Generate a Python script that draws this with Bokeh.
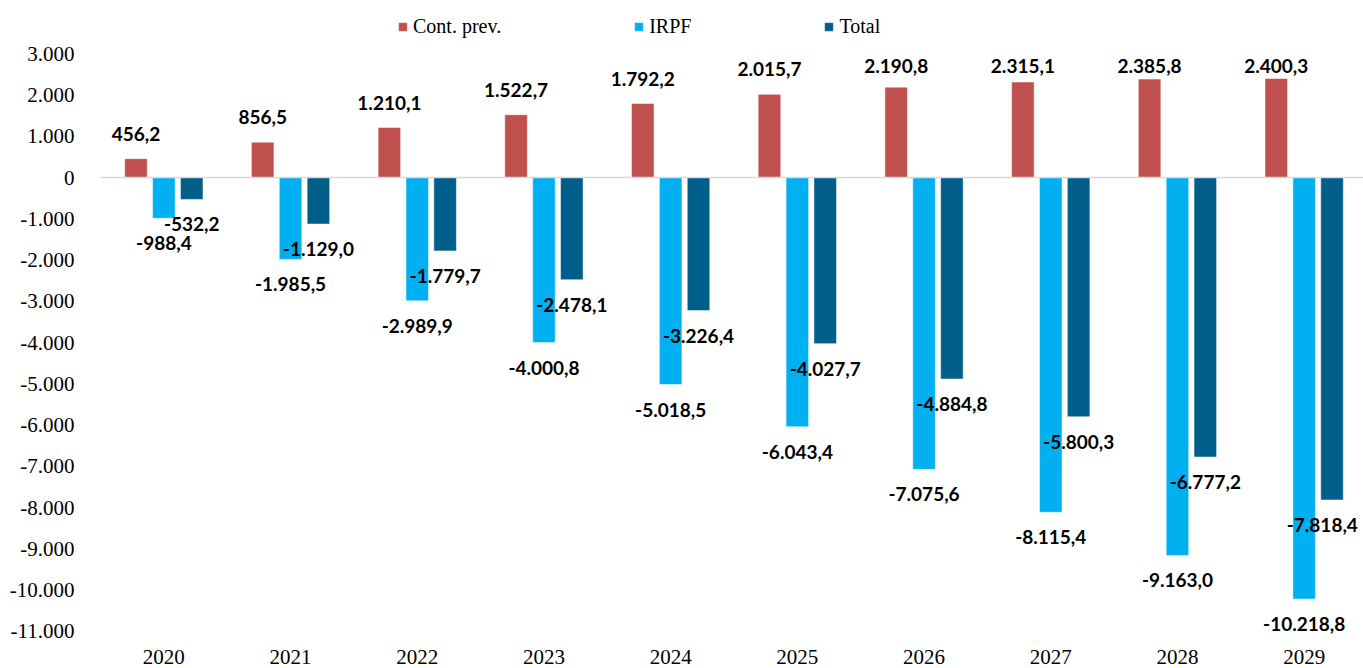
from bokeh.plotting import figure
from bokeh.models import (ColumnDataSource, Range1d, FixedTicker, Span, Legend, LegendItem)
from bokeh.transform import dodge
from bokeh.core.properties import value
from bokeh.embed import file_html
from bokeh.resources import INLINE

years = ["2020", "2021", "2022", "2023", "2024", "2025", "2026", "2027", "2028", "2029"]
cont_prev = [456.2, 856.5, 1210.1, 1522.7, 1792.2, 2015.7, 2190.8, 2315.1, 2385.8, 2400.3]
irpf = [-988.4, -1985.5, -2989.9, -4000.8, -5018.5, -6043.4, -7075.6, -8115.4, -9163.0, -10218.8]
total = [-532.2, -1129.0, -1779.7, -2478.1, -3226.4, -4027.7, -4884.8, -5800.3, -6777.2, -7818.4]
y_ticks = [-11000, -10000, -9000, -8000, -7000, -6000, -5000, -4000, -3000, -2000, -1000, 0, 1000, 2000, 3000]
y_tick_labels = ["-11.000", "-10.000", "-9.000", "-8.000", "-7.000", "-6.000", "-5.000", "-4.000",
                 "-3.000", "-2.000", "-1.000", "0", "1.000", "2.000", "3.000"]
series_names = ["Cont. prev.", "IRPF", "Total"]
colors = ["#C0504D", "#00B0F0", "#005E8A"]

W, H = 1363, 668
BORDER_LEFT = 100
BORDER_BOTTOM = 34
PX_PER_1000 = 41.25
UNITS_PER_PX = 1000.0 / PX_PER_1000
FRAME_H = H - BORDER_BOTTOM
FRAME_W = W - BORDER_LEFT
CAT_PX = 126.7
ZERO_PX = 177
Y_END = ZERO_PX * UNITS_PER_PX
Y_START = -(FRAME_H - ZERO_PX) * UNITS_PER_PX
LABEL_GAP = 25 * UNITS_PER_PX
LABEL_MAX = (ZERO_PX - 65) * UNITS_PER_PX
BAR_OFFSETS = [-0.22, 0.0, 0.22]
BAR_W = 0.178
CHAR_PX = 9.3  # approximate width of one label character (px)


def fmt(v):
    s = f"{v:,.1f}"
    return s.replace(",", "X").replace(".", ",").replace("X", ".")


def label_y(v):
    if v >= 0:
        return min(v + LABEL_GAP, LABEL_MAX)
    return v - LABEL_GAP


def label_xoff(i, off, text):
    # keep a label inside the plot's right edge, as the original does
    center = (i + off + 0.5) * CAT_PX
    half = len(text) * CHAR_PX / 2
    over = center + half - (FRAME_W - 4)
    return -over if over > 0 else 0


idx = list(range(len(years)))
data = dict(idx=idx)
cols = ["cont", "irpf", "total"]
for col, vals, off in zip(cols, [cont_prev, irpf, total], BAR_OFFSETS):
    labels = [fmt(v) for v in vals]
    data[col] = vals
    data[col + "_lbl"] = labels
    data[col + "_ly"] = [label_y(v) for v in vals]
    data[col + "_xo"] = [label_xoff(i, off, t) for i, t in zip(idx, labels)]
src = ColumnDataSource(data)

p = figure(x_range=Range1d(-0.5, -0.5 + FRAME_W / CAT_PX),
           y_range=Range1d(Y_START, Y_END),
           width=W, height=H, output_backend="svg", toolbar_location=None,
           min_border_left=BORDER_LEFT, min_border_right=0, min_border_top=0,
           min_border_bottom=BORDER_BOTTOM)
p.outline_line_color = None
p.xgrid.grid_line_color = None
p.ygrid.grid_line_color = None
p.background_fill_color = "white"
p.border_fill_color = "white"

p.add_layout(Span(location=0, dimension="width", line_color="#D9D9D9", line_width=1.5))

renderers = []
for col, off, c in zip(cols, BAR_OFFSETS, colors):
    r = p.vbar(x=dodge("idx", off), top=col, bottom=0, width=BAR_W,
               source=src, fill_color=c, line_color="white", line_alpha=0.5, line_width=1)
    renderers.append(r)
    p.text(x=dodge("idx", off), y=col + "_ly", text=col + "_lbl", x_offset=col + "_xo",
           source=src, text_align="center", text_baseline="middle",
           text_font=value("Lato"), text_font_style="bold", text_font_size="19px",
           text_color="#000000")

legend = Legend(items=[LegendItem(label=n, renderers=[r]) for n, r in zip(series_names, renderers)],
                orientation="horizontal", location=(297, FRAME_H - 38),
                glyph_width=11, glyph_height=11, label_standoff=5, spacing=132,
                padding=0, margin=0, border_line_color=None, background_fill_alpha=0,
                label_text_font="Liberation Serif", label_text_font_size="20px",
                label_text_color="#000000")
p.add_layout(legend)

p.xaxis.ticker = FixedTicker(ticks=idx)
p.xaxis.major_label_overrides = {i: y for i, y in zip(idx, years)}
p.yaxis.ticker = FixedTicker(ticks=y_ticks)
p.yaxis.major_label_overrides = {t: l for t, l in zip(y_ticks, y_tick_labels)}
for ax in (p.xaxis, p.yaxis):
    ax.axis_line_color = None
    ax.major_tick_line_color = None
    ax.minor_tick_line_color = None
    ax.major_label_text_font = "Liberation Serif"
    ax.major_label_text_font_size = "21px"
    ax.major_label_text_color = "#000000"
p.yaxis.major_label_standoff = 20
p.xaxis.major_label_standoff = 9

open("out.html", "w").write(file_html(p, INLINE))
